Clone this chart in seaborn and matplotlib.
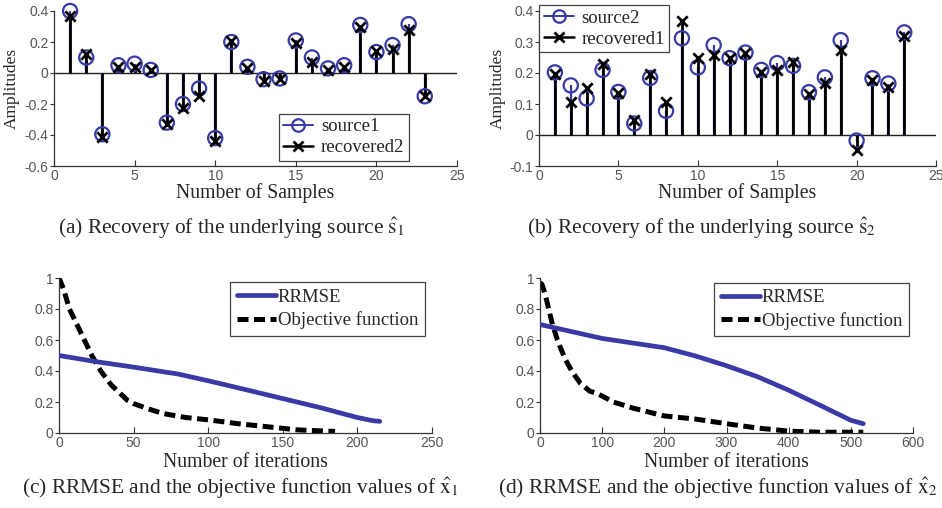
import numpy as np
import pandas as pd
import matplotlib
matplotlib.use("Agg")
import matplotlib.pyplot as plt
import seaborn as sns
from matplotlib.lines import Line2D
from matplotlib.legend_handler import HandlerLine2D

# ---------------- data ----------------
samples = list(range(1, 24))
source1 = [0.40, 0.10, -0.395, 0.05, 0.06, 0.02, -0.32, -0.20, -0.10, -0.42, 0.20, 0.04,
           -0.04, -0.035, 0.21, 0.10, 0.03, 0.05, 0.31, 0.135, 0.18, 0.315, -0.15]
recovered2 = [0.37, 0.125, -0.41, 0.04, 0.04, 0.02, -0.33, -0.225, -0.15, -0.44, 0.205, 0.03,
              -0.05, -0.04, 0.195, 0.07, 0.02, 0.04, 0.30, 0.14, 0.155, 0.275, -0.15]
source2 = [0.202, 0.16, 0.118, 0.21, 0.139, 0.037, 0.184, 0.078, 0.312, 0.218, 0.29, 0.248,
           0.266, 0.21, 0.232, 0.223, 0.138, 0.186, 0.306, -0.018, 0.183, 0.166, 0.331]
recovered1 = [0.196, 0.106, 0.151, 0.23, 0.136, 0.049, 0.198, 0.108, 0.368, 0.25, 0.258, 0.249,
              0.264, 0.202, 0.21, 0.237, 0.131, 0.168, 0.274, -0.048, 0.179, 0.155, 0.32]

iter_c_rrmse = [0, 25, 50, 80, 100, 125, 150, 175, 200, 210, 215]
rrmse_c = [0.50, 0.46, 0.425, 0.38, 0.337, 0.28, 0.222, 0.164, 0.10, 0.08, 0.075]
iter_c_obj = [0, 3, 7, 12, 17, 22, 28, 35, 46, 50, 60, 70, 85, 100, 120, 140, 160, 185]
obj_c = [1.0, 0.93, 0.8, 0.7, 0.6, 0.5, 0.4, 0.31, 0.21, 0.19, 0.155, 0.125, 0.1, 0.085,
         0.06, 0.04, 0.02, 0.01]

iter_d_rrmse = [0, 50, 100, 150, 200, 250, 300, 350, 400, 450, 500, 520]
rrmse_d = [0.70, 0.655, 0.61, 0.58, 0.55, 0.497, 0.434, 0.363, 0.276, 0.18, 0.082, 0.06]
iter_d_obj = [0, 3, 8, 14, 20, 28, 40, 51, 65, 80, 92, 118, 150, 200, 250, 300, 350, 400, 450, 520]
obj_d = [0.97, 0.96, 0.9, 0.8, 0.7, 0.6, 0.48, 0.4, 0.32, 0.27, 0.255, 0.2, 0.16, 0.11,
         0.09, 0.06, 0.032, 0.012, 0.005, 0.005]

# ---------------- style ----------------
sns.set_theme(style="white")
plt.rcParams["font.family"] = ["Liberation Serif", "DejaVu Serif"]
plt.rcParams["mathtext.fontset"] = "stix"

BLUE = "#3a3aa6"
TICKC = "#555555"
SPINEC = "#333333"
SERIF = "Liberation Serif"
SANS = "Liberation Sans"


class EndMarkerHandler(HandlerLine2D):
    def get_xdata(self, legend, xdescent, ydescent, width, height, fontsize):
        return [-xdescent, -xdescent + width], [-xdescent + width]


fig = plt.figure(figsize=(9.42, 5.08), dpi=100)
W, H = 942.0, 508.0


def add_ax(left, right, top, bottom):
    return fig.add_axes([left / W, 1 - bottom / H, (right - left) / W, (bottom - top) / H])


def style_ax(ax):
    for s in ["top", "right"]:
        ax.spines[s].set_visible(False)
    for s in ["left", "bottom"]:
        ax.spines[s].set_color(SPINEC)
        ax.spines[s].set_linewidth(0.9)
    ax.tick_params(axis="x", direction="in", length=4, width=0.8, colors=SPINEC,
                   labelcolor=TICKC, labelsize=10, pad=2)
    ax.tick_params(axis="y", direction="out", length=3, width=0.8, colors=SPINEC,
                   labelcolor=TICKC, labelsize=10, pad=1)
    ax.tick_params(bottom=True, left=True)
    for lab in ax.get_xticklabels() + ax.get_yticklabels():
        lab.set_fontfamily(SANS)
    ax.grid(False)


def stem_panel(ax, src, rec, src_label, rec_label, ylim, yticks, legend_loc, bbox):
    df = pd.DataFrame({"n": samples, "src": src, "rec": rec})
    ax.axhline(0, color="#222222", lw=1.0, zorder=1)
    ax.vlines(df["n"], 0, df["src"], color=BLUE, lw=1.6, zorder=2)
    ax.vlines(df["n"], 0, df["rec"], color="black", lw=2.0, zorder=3)
    sns.scatterplot(data=df, x="n", y="src", ax=ax, marker="o", s=105,
                    facecolor="none", edgecolor=BLUE, linewidth=1.6, zorder=4,
                    clip_on=False)
    sns.scatterplot(data=df, x="n", y="rec", ax=ax, marker="x", s=55,
                    color="black", linewidth=2.0, zorder=5, clip_on=False)
    ax.set_xlim(0, 25)
    ax.set_ylim(*ylim)
    ax.set_xticks([0, 5, 10, 15, 20, 25])
    ax.set_yticks(yticks)
    ax.set_yticklabels([("%g" % t) for t in yticks])
    ax.set_xlabel("Number of Samples", fontsize=14.2, fontfamily=SERIF, labelpad=0)
    ax.set_ylabel("Amplitudes", fontsize=12.5, fontfamily=SERIF, labelpad=3)
    style_ax(ax)
    h1 = Line2D([], [], color=BLUE, lw=1.4, marker="o", markersize=9,
                markerfacecolor="none", markeredgecolor=BLUE, markeredgewidth=1.6)
    h2 = Line2D([], [], color="black", lw=1.8, marker="x", markersize=7,
                markeredgewidth=2.0, markeredgecolor="black")
    leg = ax.legend([h1, h2], [src_label, rec_label], loc=legend_loc, bbox_to_anchor=bbox,
                    handler_map={Line2D: EndMarkerHandler()}, fancybox=False,
                    edgecolor="#444444", framealpha=1, fontsize=13.5, handlelength=1.6,
                    handletextpad=0.4, borderpad=0.25, labelspacing=0.2,
                    borderaxespad=0)
    leg.get_frame().set_linewidth(0.9)
    for t in leg.get_texts():
        t.set_fontfamily(SERIF)


def curve_panel(ax, xr, yr, xo, yo, xlim, xticks, bbox):
    d1 = pd.DataFrame({"it": xr, "v": yr})
    d2 = pd.DataFrame({"it": xo, "v": yo})
    sns.lineplot(data=d1, x="it", y="v", ax=ax, color=BLUE, lw=3.4, label="RRMSE",
                 zorder=3)
    sns.lineplot(data=d2, x="it", y="v", ax=ax, color="black", lw=3.6,
                 label="Objective function", zorder=2)
    ax.lines[1].set_dashes([2.2, 1.1])
    ax.set_xlim(*xlim)
    ax.set_ylim(0, 1)
    ax.set_xticks(xticks)
    ax.set_yticks([0, 0.2, 0.4, 0.6, 0.8, 1])
    ax.set_yticklabels(["0", "0.2", "0.4", "0.6", "0.8", "1"])
    ax.set_xlabel("Number of iterations", fontsize=14.2, fontfamily=SERIF, labelpad=2)
    ax.set_ylabel("")
    style_ax(ax)
    leg = ax.legend(loc="upper right", bbox_to_anchor=bbox, fancybox=False,
                    edgecolor="#444444", framealpha=1, fontsize=13.5, handlelength=2.1,
                    handletextpad=0.1, borderpad=0.35, labelspacing=0.3,
                    borderaxespad=0)
    leg.get_frame().set_linewidth(0.9)
    for t in leg.get_texts():
        t.set_fontfamily(SERIF)


ax_a = add_ax(54, 457, 11, 166)
stem_panel(ax_a, source1, recovered2, "source1", "recovered2", (-0.6, 0.4),
           [-0.6, -0.4, -0.2, 0, 0.2, 0.4], "lower right", (0.881, 0.032))

ax_b = add_ax(539, 936, 11, 166)
stem_panel(ax_b, source2, recovered1, "source2", "recovered1", (-0.1, 0.4),
           [-0.1, 0, 0.1, 0.2, 0.3, 0.4], "upper left", (0.0, 1.039))

ax_c = add_ax(59, 432, 278, 433)
curve_panel(ax_c, iter_c_rrmse, rrmse_c, iter_c_obj, obj_c, (0, 250),
            [0, 50, 100, 150, 200, 250], (0.981, 0.975))

ax_d = add_ax(540, 913, 278, 433)
curve_panel(ax_d, iter_d_rrmse, rrmse_d, iter_d_obj, obj_d, (0, 600),
            [0, 100, 200, 300, 400, 500, 600], (0.989, 0.97))

cap_kw = dict(ha="center", va="center", fontsize=15.4, fontfamily=SERIF)
fig.text(231 / W, 1 - 228 / H, r"(a) Recovery of the underlying source $\hat{\mathrm{s}}_1$", **cap_kw)
fig.text(701 / W, 1 - 228 / H, r"(b) Recovery of the underlying source $\hat{\mathrm{s}}_2$", **cap_kw)
fig.text(240 / W, 1 - 488 / H, r"(c) RRMSE and the objective function values of $\hat{\mathrm{x}}_1$", **cap_kw)
fig.text(718 / W, 1 - 488 / H, r"(d) RRMSE and the objective function values of $\hat{\mathrm{x}}_2$", **cap_kw)

fig.savefig("out.png", dpi=100)
